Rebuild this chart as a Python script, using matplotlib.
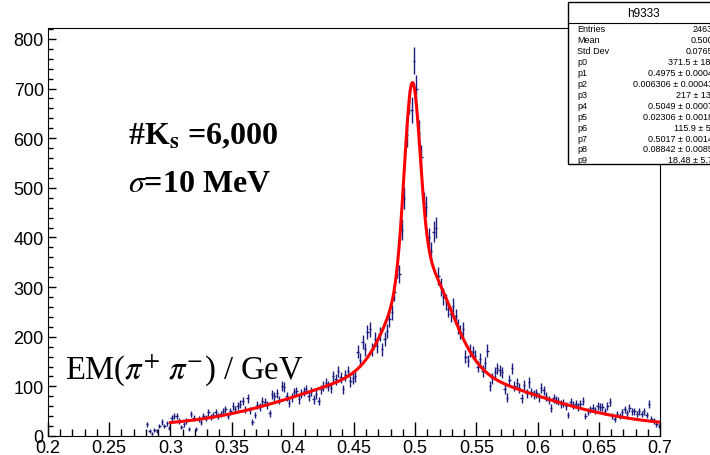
import numpy as np
import matplotlib
matplotlib.use("Agg")
import matplotlib.pyplot as plt
from matplotlib.ticker import MultipleLocator

# histogram h9333: 0.002 wide bins from 0.280 to 0.700
bin_width = 0.002
bin_centers = np.round(np.arange(0.281, 0.700, bin_width), 3)
counts = np.array([
    # 0.281 - 0.299
    24, 10, 5, 12, 10, 20, 28, 20, 26, 16,
    # 0.301 - 0.349
    36, 40, 40, 30, 18, 24, 30, 14, 44, 36, 14, 34, 28, 40, 36, 48, 38, 42, 48, 40, 44, 50, 54, 40, 50,
    # 0.351 - 0.399
    60, 54, 60, 64, 70, 54, 76, 52, 28, 42, 62, 58, 70, 68, 62, 46, 84, 80, 86, 72, 100, 98, 80, 66, 78,
    # 0.401 - 0.449
    88, 90, 74, 86, 90, 94, 80, 90, 74, 84, 70, 94, 100, 106, 100, 96, 120, 114, 130, 118, 94, 122, 130, 110, 116,
    # 0.451 - 0.499
    120, 170, 154, 190, 175, 210, 215, 175, 195, 181, 205, 175, 195, 211, 235, 249, 290, 336, 326, 416, 480, 607, 674, 657, 756,
    # 0.501 - 0.549
    700, 611, 563, 470, 462, 400, 372, 412, 420, 322, 300, 281, 270, 255, 245, 262, 241, 221, 209, 215, 160, 151, 172, 169, 161,
    # 0.551 - 0.599
    140, 155, 131, 148, 172, 101, 116, 128, 136, 132, 128, 95, 77, 112, 136, 101, 106, 97, 76, 102, 86, 108, 88, 84, 86,
    # 0.601 - 0.649
    78, 96, 92, 80, 72, 56, 76, 72, 70, 64, 66, 60, 42, 68, 62, 64, 58, 64, 70, 40, 50, 54, 56, 52, 60,
    # 0.651 - 0.699
    58, 58, 50, 60, 68, 40, 34, 44, 40, 48, 54, 46, 56, 50, 50, 44, 50, 44, 50, 42, 64, 34, 30, 24, 20,
])

# fit parameters from the stats box (3 gaussians + constant), fit range 0.3 - 0.7
p = [371.5, 0.4975, 0.006306, 217, 0.5049, 0.02306, 115.9, 0.5017, 0.08842, 18.48]
fit_range = (0.3, 0.7)

stat_names = ['Entries', 'Mean', 'Std Dev', 'p0', 'p1', 'p2', 'p3', 'p4', 'p5', 'p6', 'p7', 'p8', 'p9']
stat_vals = ['24635', '0.5009', '0.07652', '371.5 \u00b1 18.2', '0.4975 \u00b1 0.00044', '0.006306 \u00b1 0.000430',
             '217 \u00b1 13.6', '0.5049 \u00b1 0.00072', '0.02306 \u00b1 0.00180', '115.9 \u00b1 5.6',
             '0.5017 \u00b1 0.00141', '0.08842 \u00b1 0.00850', '18.48 \u00b1 5.70']


def fitfunc(x):
    return (p[0] * np.exp(-0.5 * ((x - p[1]) / p[2]) ** 2)
            + p[3] * np.exp(-0.5 * ((x - p[4]) / p[5]) ** 2)
            + p[6] * np.exp(-0.5 * ((x - p[7]) / p[8]) ** 2) + p[9])


plt.rcParams['mathtext.fontset'] = 'stix'
W, H = 710, 456
fig = plt.figure(figsize=(W / 100, H / 100), dpi=100)
ax = fig.add_axes([48 / W, 19 / H, 612 / W, 408 / H])

ax.errorbar(bin_centers, counts, yerr=np.sqrt(counts), xerr=bin_width / 2, fmt='none',
            ecolor='#1c1c7c', elinewidth=1, zorder=2)
xf = np.linspace(fit_range[0], fit_range[1], 800)
ax.plot(xf, fitfunc(xf), color='#ff0000', lw=2.2, zorder=3)

ax.set_xlim(0.2, 0.7)
ax.set_ylim(0, 822)
ax.set_xticks([0.2, 0.25, 0.3, 0.35, 0.4, 0.45, 0.5, 0.55, 0.6, 0.65, 0.7])
ax.set_xticklabels(['0.2', '0.25', '0.3', '0.35', '0.4', '0.45', '0.5', '0.55', '0.6', '0.65', '0.7'])
ax.xaxis.set_minor_locator(MultipleLocator(0.01))
ax.yaxis.set_major_locator(MultipleLocator(100))
ax.yaxis.set_minor_locator(MultipleLocator(20))
ax.tick_params(axis='x', which='major', direction='in', length=10, width=1, labelsize=13, pad=2)
ax.tick_params(axis='x', which='minor', direction='in', length=5, width=1)
ax.tick_params(axis='y', which='major', direction='in', length=6, width=1, labelsize=13, pad=3)
ax.tick_params(axis='y', which='minor', direction='in', length=3.5, width=1)
for lab in ax.get_xticklabels() + ax.get_yticklabels():
    lab.set_family('Liberation Sans')

# annotations
fig.text(128 / W, 1 - 144 / H, '#K$_\\mathbf{s}$ =6,000', family='Liberation Serif', weight='bold',
         fontsize=23, va='baseline')
fig.text(128 / W, 1 - 192 / H, r'$\sigma$=10 MeV', family='Liberation Serif', weight='bold',
         fontsize=23, va='baseline')
fig.text(65 / W, 1 - 378 / H, r'EM($\pi^{+}\ \pi^{-}$) / GeV', family='Liberation Serif',
         fontsize=23.5, va='baseline')

# stats box (cut by the right edge like the original)
bx0, by0, bx1, by1 = 568 / W, 1 - 165 / H, 1.02, 1 - 3 / H
fig.patches.append(plt.Rectangle((bx0, by0), bx1 - bx0, by1 - by0, transform=fig.transFigure,
                                 facecolor='white', edgecolor='black', lw=1, zorder=5))
fig.lines.append(plt.Line2D([bx0, bx1], [1 - 24 / H] * 2, transform=fig.transFigure,
                            color='black', lw=0.8, zorder=6))
fig.text(643 / W, 1 - 14 / H, 'h9333', ha='center', va='center', fontsize=8.5,
         family='Liberation Sans', zorder=7)
for i, (n, v) in enumerate(zip(stat_names, stat_vals)):
    yy = 1 - (30 + i * 10.9) / H
    fig.text(577 / W, yy, n, ha='left', va='center', fontsize=6.5, family='Liberation Sans', zorder=7)
    fig.text(718 / W, yy, v, ha='right', va='center', fontsize=6.5, family='Liberation Sans', zorder=7)

fig.savefig('out.png', dpi=100)
